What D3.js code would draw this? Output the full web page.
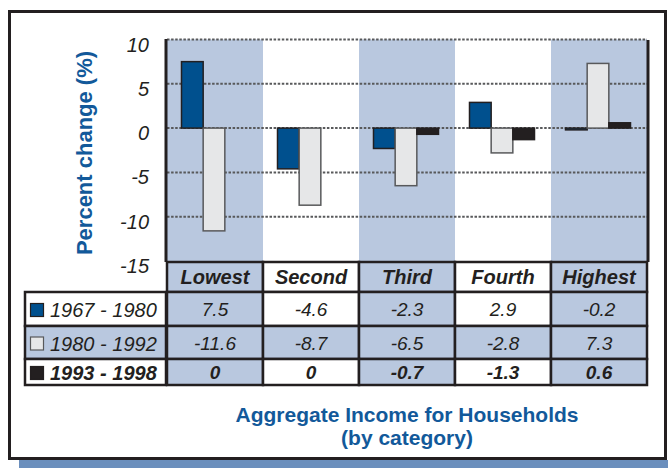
<!DOCTYPE html>
<html>
<head>
<meta charset="utf-8">
<script src="https://cdn.jsdelivr.net/npm/d3@7"></script>
<style>
  body { margin: 0; background: #fff; }
  svg text { font-family: Arial, "Liberation Sans", sans-serif; }
</style>
</head>
<body>
<script>
// Income quintiles (columns) and the three periods (series)
var categories = ["Lowest", "Second", "Third", "Fourth", "Highest"];
var periods = ["1967 - 1980", "1980 - 1992", "1993 - 1998"];

// Percent change per quintile, one array per period
var change_1967_1980 = [7.5, -4.6, -2.3, 2.9, -0.2];
var change_1980_1992 = [-11.6, -8.7, -6.5, -2.8, 7.3];
var change_1993_1998 = [0, 0, -0.7, -1.3, 0.6];

var y_ticks = [10, 5, 0, -5, -10, -15];

var series = [change_1967_1980, change_1980_1992, change_1993_1998];

// colours
var fills = ["#00508e", "#e6e7e8", "#231f20"];
var strokes = ["#231f20", "#58595b", "#231f20"];
var shade = "#b9c8df";
var dark = "#231f20";
var titleBlue = "#12599a";

var svg = d3.select("body").append("svg").attr("width", 668).attr("height", 468);

// shadow strip + outer frame
svg.append("rect").attr("x", 19).attr("y", 460).attr("width", 649).attr("height", 8).style("fill", "#6b8fbd");
svg.append("rect").attr("x", 9.5).attr("y", 11.5).attr("width", 656).attr("height", 447)
    .style("fill", "#fff").style("stroke", dark).style("stroke-width", 3);

// scales
var x = d3.scaleBand().domain(categories).range([167, 647]).padding(0);
var xs = d3.scaleBand().domain(periods).range([0, 65]).padding(0);
var groupOffset = (x.bandwidth() - 65) / 2 - 1;
var y = d3.scaleLinear().domain([-15, 10]).range([261, 39.5]);

// shaded columns behind the plot
svg.selectAll("rect.col").data(categories.filter(function(d, i){ return i % 2 === 0; }))
    .enter().append("rect")
    .attr("class", "col")
    .attr("x", function(d){ return x(d); })
    .attr("y", y(10))
    .attr("width", x.bandwidth())
    .attr("height", y(-15) - y(10))
    .style("fill", shade);

// dotted grid lines
svg.selectAll("line.grid").data(y_ticks.filter(function(t){ return t > -15; }))
    .enter().append("line")
    .attr("class", "grid")
    .attr("x1", 167).attr("x2", 647)
    .attr("y1", function(d){ return y(d); })
    .attr("y2", function(d){ return y(d); })
    .style("stroke", "#58595b")
    .style("stroke-width", 2)
    .style("stroke-dasharray", "2.5,1.6");

// tick labels
svg.selectAll("text.tick").data(y_ticks)
    .enter().append("text")
    .attr("class", "tick")
    .attr("x", 149)
    .attr("y", function(d){ return y(d) + 12; })
    .attr("text-anchor", "end")
    .style("font-size", "20px")
    .style("font-style", "italic")
    .style("fill", dark)
    .text(function(d){ return d; });

// axis title
svg.append("text")
    .attr("transform", "translate(92,153) rotate(-90)")
    .attr("text-anchor", "middle")
    .style("font-size", "22px")
    .style("font-weight", "bold")
    .style("fill", titleBlue)
    .text("Percent change (%)");

// bars
series.forEach(function(vals, s){
    var rows = vals.map(function(v, i){ return {cat: categories[i], v: v}; })
        .filter(function(d){ return d.v !== 0; });
    svg.selectAll("rect.bar" + s).data(rows)
        .enter().append("rect")
        .attr("class", "bar" + s)
        .attr("x", function(d){ return x(d.cat) + groupOffset + xs(periods[s]); })
        .attr("y", function(d){ return y(Math.max(0, d.v)); })
        .attr("width", xs.bandwidth())
        .attr("height", function(d){ return Math.abs(y(d.v) - y(0)); })
        .style("fill", fills[s])
        .style("stroke", strokes[s])
        .style("stroke-width", 1.5);
});

// axis line and right edge of the plot
svg.append("line").attr("x1", 166).attr("x2", 166).attr("y1", 39).attr("y2", 262)
    .style("stroke", dark).style("stroke-width", 3);
svg.append("line").attr("x1", 648).attr("x2", 648).attr("y1", 40).attr("y2", 262)
    .style("stroke", dark).style("stroke-width", 3);

// data table below the plot
var rowTops = [262, 292, 326, 359];
var rowBottoms = [292, 326, 359, 385];
var table = svg.append("g");

// header row
categories.forEach(function(c, i){
    table.append("rect")
        .attr("x", x(c)).attr("y", rowTops[0])
        .attr("width", x.bandwidth()).attr("height", rowBottoms[0] - rowTops[0])
        .style("fill", i % 2 === 0 ? shade : "#fff")
        .style("stroke", dark).style("stroke-width", 2.5);
    table.append("text")
        .attr("x", x(c) + x.bandwidth() / 2)
        .attr("y", (rowTops[0] + rowBottoms[0]) / 2 + 7)
        .attr("text-anchor", "middle")
        .style("font-size", "20px")
        .style("font-weight", "bold")
        .style("font-style", "italic")
        .style("fill", dark)
        .text(c);
});

// one row per period
series.forEach(function(vals, s){
    var top = rowTops[s + 1], bottom = rowBottoms[s + 1];
    var mid = (top + bottom) / 2;
    var allShaded = s === 1;
    table.append("rect")
        .attr("x", 25).attr("y", top)
        .attr("width", 141).attr("height", bottom - top)
        .style("fill", allShaded ? shade : "#fff")
        .style("stroke", dark).style("stroke-width", 2.5);
    table.append("rect")
        .attr("x", 30.5).attr("y", mid - 5.5)
        .attr("width", 13).attr("height", 13)
        .style("fill", fills[s])
        .style("stroke", strokes[s]).style("stroke-width", 1.2);
    table.append("text")
        .attr("x", 50).attr("y", mid + 8)
        .style("font-size", "20px")
        .style("font-style", "italic")
        .style("font-weight", s === 2 ? "bold" : "normal")
        .style("fill", dark)
        .text(periods[s]);

    vals.forEach(function(v, i){
        table.append("rect")
            .attr("x", x(categories[i])).attr("y", top)
            .attr("width", x.bandwidth()).attr("height", bottom - top)
            .style("fill", (allShaded || i % 2 === 0) ? shade : "#fff")
            .style("stroke", dark).style("stroke-width", 2.5);
        table.append("text")
            .attr("x", x(categories[i]) + x.bandwidth() / 2)
            .attr("y", mid + 7)
            .attr("text-anchor", "middle")
            .style("font-size", "19px")
            .style("font-style", "italic")
            .style("font-weight", s === 2 ? "bold" : "normal")
            .style("fill", dark)
            .text(String(v));
    });
});

// bottom title
var title = svg.append("text")
    .attr("x", 407)
    .attr("text-anchor", "middle")
    .style("font-size", "21px")
    .style("font-weight", "bold")
    .style("fill", titleBlue);
title.append("tspan").attr("x", 407).attr("y", 422).text("Aggregate Income for Households");
title.append("tspan").attr("x", 407).attr("y", 445).text("(by category)");
</script>
</body>
</html>
